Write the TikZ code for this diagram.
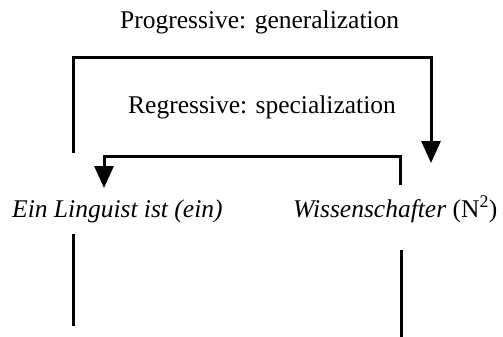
\documentclass[tikz,border=0pt]{standalone}
\usepackage{fontspec}
\setmainfont{Liberation Serif}
\usetikzlibrary{arrows.meta}
\begin{document}
\begin{tikzpicture}[x=1pt,y=-1pt,
  lbl/.style={inner sep=0pt,anchor=base west,font=\fontsize{25.5}{30}\selectfont},
  loopline/.style={line width=3pt,-{Triangle[length=22pt,width=19pt]}},
  bar/.style={line width=3pt}]
  \useasboundingbox (0,0) rectangle (503,337);

  % labels
  \node[lbl] (prog) at (120,29) {Progressive: generalization};
  \node[lbl] (reg) at (128,113) {Regressive: specialization};
  \node[lbl] (left) at (12,217) {\itshape Ein Linguist ist (ein)};
  \node[lbl] (right) at (293,217) {\textit{Wissenschafter} (N\textsuperscript{2})};

  % loop endpoints
  \coordinate (pA) at (73,153);
  \coordinate (pB) at (431,163);
  \coordinate (rA) at (400,185);
  \coordinate (rB) at (104,188);

  % progressive loop: left to right over the top
  \draw[loopline] (pA) -- (73,58) -| (pB);
  % regressive loop: right to left
  \draw[loopline] (rA) -- (400,156) -| (rB);

  % lower vertical strokes
  \coordinate (l1) at (73,234);
  \coordinate (l2) at (73,326);
  \coordinate (r1) at (401,250);
  \coordinate (r2) at (401,337);
  \draw[bar] (l1) -- (l2);
  \draw[bar] (r1) -- (r2);
\end{tikzpicture}
\end{document}
